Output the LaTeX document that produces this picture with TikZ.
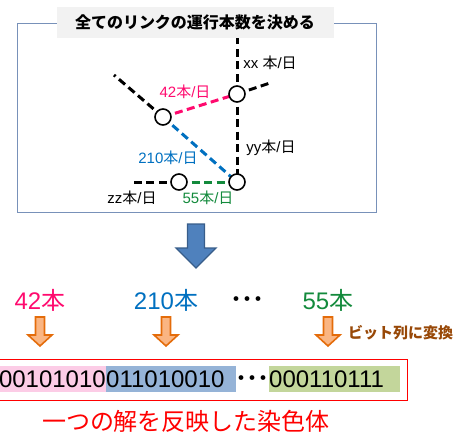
\documentclass[tikz,border=0pt]{standalone}
\usepackage{fontspec}
\setmainfont{Liberation Sans}
\newfontfamily\jp{Noto Sans CJK JP}
\newcommand\J[1]{{\jp #1}}
\newcommand\tdots{・\kern-6pt・\kern-6pt・}
\definecolor{pinkc}{HTML}{FF0A6E}
\definecolor{bluec}{HTML}{0070C0}
\definecolor{greenc}{HTML}{138A3C}
\definecolor{hlpink}{HTML}{FCCCE6}
\definecolor{hlblue}{HTML}{95B3D7}
\definecolor{hlgreen}{HTML}{C3D69B}
\definecolor{titlefill}{HTML}{F2F2F2}
\definecolor{framec}{RGB}{120,145,185}
\definecolor{arrowblue}{HTML}{4F81BD}
\definecolor{arrowblueline}{HTML}{385D8A}
\definecolor{orangeline}{HTML}{E46C0A}
\definecolor{orangefill}{HTML}{FAB582}
\definecolor{brownc}{HTML}{984807}
\begin{document}
\begin{tikzpicture}[x=1pt,y=-1pt,
  link/.style={line width=3pt,dash pattern=on 8pt off 4.5pt},
  station/.style={circle,draw=black,fill=white,line width=1.6pt,minimum size=16pt,inner sep=0pt},
  lbl/.style={inner sep=0pt,font=\fontsize{15}{18}\selectfont},
  big/.style={inner sep=0pt,font=\fontsize{24}{28}\selectfont},
  bits/.style={inner sep=0pt,font=\fontsize{24}{28}\selectfont},
  dotsstyle/.style={inner sep=0pt,font=\fontsize{17}{20}\selectfont\jp\bfseries},
  oarrow/.style={draw=orangeline,fill=orangefill,line width=1.6pt,line join=miter}]
\useasboundingbox (0,0) rectangle (464,434);
% frame and title
\draw[framec,line width=1pt] (17,23) rectangle (376,212);
\node[fill=titlefill,minimum width=277pt,minimum height=31pt,inner sep=0pt] (title) at (195,22) {};
\node[inner sep=0pt,font=\fontsize{16}{19}\selectfont\jp\bfseries] (titletext) at (195,22) {全てのリンクの運行本数を決める};
% stations
\coordinate (A) at (237,94);
\coordinate (B) at (163,117);
\coordinate (C) at (237,182);
\coordinate (D) at (179,182);
\coordinate (Atop) at (237,38);
\coordinate (Aright) at (270,83);
\coordinate (Bleft) at (114,75);
\coordinate (Dleft) at (132,182);
\draw[link] (A) -- (Atop);
\draw[link] (A) -- (Aright);
\draw[link] (B) -- (Bleft);
\draw[link] (D) -- (Dleft);
\draw[link] (A) -- (C);
\draw[link,pinkc] (B) -- (A);
\draw[link,bluec] (B) -- (C);
\draw[link,greenc] (D) -- (C);
\node[station] (nA) at (A) {};
\node[station] (nB) at (B) {};
\node[station] (nC) at (C) {};
\node[station] (nD) at (D) {};
% link labels
\node[lbl] (lxx) at (270,63) {xx \J{本}/\J{日}};
\node[lbl,pinkc] (l42) at (185,92) {42\J{本}/\J{日}};
\node[lbl] (lyy) at (271,148) {yy\J{本}/\J{日}};
\node[lbl,bluec] (l210) at (168,158) {210\J{本}/\J{日}};
\node[lbl] (lzz) at (132,198) {zz\J{本}/\J{日}};
\node[lbl,greenc] (l55) at (208,198) {55\J{本}/\J{日}};
% big arrow
\draw[fill=arrowblue,draw=arrowblueline,line width=1.4pt,line join=miter]
  (187.5,224) -- (204.5,224) -- (204.5,248) -- (216,248) -- (196,268) -- (176,248) -- (187.5,248) -- cycle;
% counts
\node[big,pinkc] (c42) at (40,300) {42\J{本}};
\node[big,bluec] (c210) at (166,300) {210\J{本}};
\node[dotsstyle] (cdots) at (247,301) {\tdots};
\node[big,greenc] (c55) at (328,300) {55\J{本}};
% small arrows
\foreach \cx in {40,166,328}{
  \draw[oarrow] (\cx-4.5,317) -- (\cx+4.5,317) -- (\cx+4.5,335) -- (\cx+12,335) -- (\cx,346) -- (\cx-12,335) -- (\cx-4.5,335) -- cycle;
}
\node[inner sep=0pt,anchor=west,brownc,font=\fontsize{15}{18}\selectfont\jp\bfseries] (conv) at (348,333) {ビット列に変換};
% chromosome
\fill[hlpink] (-15,366) rectangle (106,392);
\fill[hlblue] (106,366) rectangle (236,392);
\fill[hlgreen] (269,366) rectangle (400,392);
\draw[red,line width=1pt] (-5,359) rectangle (407,400);
\node[bits,anchor=east] (b42) at (106,379) {000101010};
\node[bits,anchor=west] (b210) at (106,379) {011010010};
\node[dotsstyle] (bdots) at (252,380) {\tdots};
\node[bits,anchor=west] (b55) at (269,379) {000110111};
\node[inner sep=0pt,red,font=\fontsize{24}{28}\selectfont\jp] (caption) at (186,421) {一つの解を反映した染色体};
\end{tikzpicture}
\end{document}
